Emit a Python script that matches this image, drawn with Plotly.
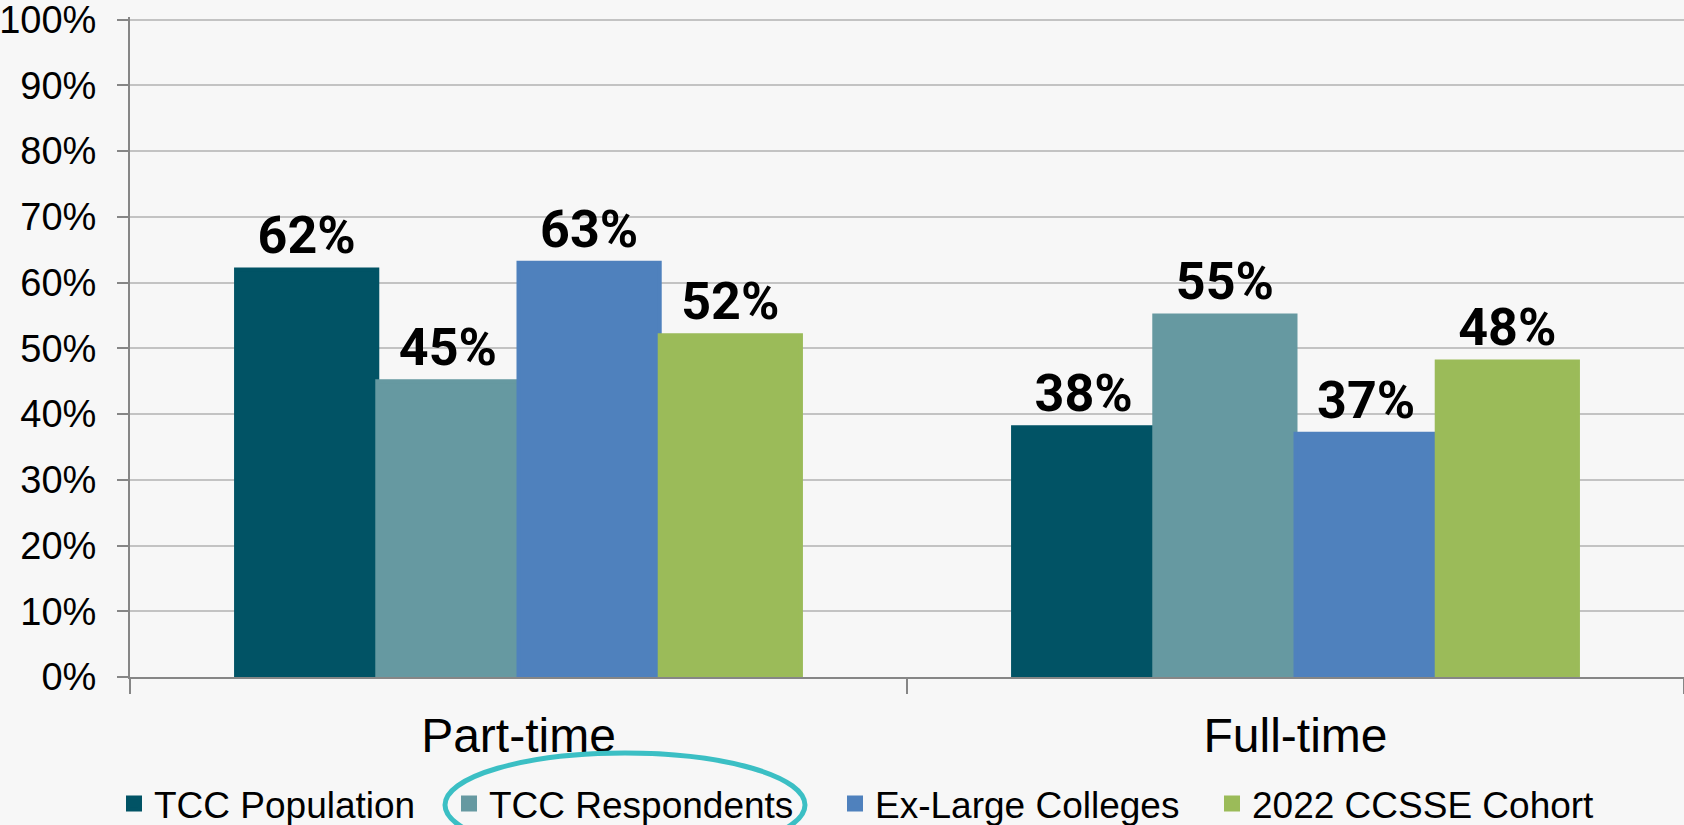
import plotly.graph_objects as go

categories = ['Part-time', 'Full-time']
series_names = ['TCC Population', 'TCC Respondents', 'Ex-Large Colleges', '2022 CCSSE Cohort']
tcc_population = [62, 38]
tcc_respondents = [45, 55]
ex_large = [63, 37]
ccsse_cohort = [52, 48]
y_ticks = list(range(0, 101, 10))
y_tick_labels = [f'{v}%' for v in y_ticks]

colors = ['#015365', '#6699A1', '#4F81BD', '#9BBB59']
series_values = [tcc_population, tcc_respondents, ex_large, ccsse_cohort]

# plot area in pixels, used to place the legends and the ellipse in paper units
PX_L, PX_R, PX_T, PX_B = 130, 1684, 17, 677


def px_x(px):
    return (px - PX_L) / (PX_R - PX_L)


def px_y(py):
    return (PX_B - py) / (PX_B - PX_T)


legend_ids = ['legend', 'legend2', 'legend3', 'legend4']
legend_text_x = [155, 490, 876, 1253]

fig = go.Figure()
for name, vals, col, lid in zip(series_names, series_values, colors, legend_ids):
    fig.add_trace(go.Bar(
        x=categories,
        y=vals,
        name=name,
        # outline in the bar colour so the legend swatch comes out bigger
        marker=dict(color=col, line=dict(width=4, color=col)),
        texttemplate='%{y}%',
        textposition='outside',
        textfont=dict(family='Roboto, Liberation Sans, Arial', size=52, color='black', weight='bold'),
        cliponaxis=False,
        legend=lid,
        showlegend=True,
    ))

layout_legends = {}
for lid, tx in zip(legend_ids, legend_text_x):
    layout_legends[lid] = dict(
        orientation='h',
        x=px_x(tx - 41),
        xanchor='left',
        y=px_y(804),
        yanchor='middle',
        font=dict(family='Liberation Sans, Arial', size=37, color='black'),
        bgcolor='rgba(0,0,0,0)',
        borderwidth=0,
        visible=True,
    )

fig.update_layout(
    width=1684,
    height=825,
    paper_bgcolor='#f7f7f7',
    plot_bgcolor='#f7f7f7',
    margin=dict(l=PX_L, r=0, t=PX_T, b=825 - PX_B, pad=0, autoexpand=False),
    showlegend=True,
    barmode='group',
    bargap=0.273,
    bargroupgap=0,
    font=dict(family='Liberation Sans, Arial', color='black'),
    **layout_legends,
)

fig.update_xaxes(
    showline=True,
    linecolor='#868686',
    linewidth=2,
    ticks='outside',
    tickson='boundaries',
    ticklen=15,
    tickwidth=2,
    tickcolor='#868686',
    tickfont=dict(size=48, color='black'),
    ticklabelstandoff=15,
    showgrid=False,
)

fig.update_yaxes(
    range=[0, 100.4],
    tickvals=y_ticks,
    ticktext=y_tick_labels,
    ticklabeloverflow='allow',
    showline=True,
    linecolor='#868686',
    linewidth=2,
    ticks='outside',
    ticklen=11,
    tickwidth=2,
    tickcolor='#868686',
    tickfont=dict(size=38, color='black'),
    ticklabelstandoff=13,
    showgrid=True,
    gridcolor='#c3c3c3',
    gridwidth=2,
    zeroline=False,
)

# highlight ring drawn around the "TCC Respondents" legend entry
fig.add_shape(
    type='circle',
    xref='paper', yref='paper',
    x0=px_x(445), x1=px_x(805),
    y0=px_y(753), y1=px_y(857),
    line=dict(color='#3BBFC4', width=5),
    layer='above',
)

# drop the browser's default page margin so the figure sits at the window corner
fig.write_html(
    'out.html',
    config={'displayModeBar': False},
    post_script="document.body.style.margin='0';document.body.style.background='#f7f7f7';",
)
